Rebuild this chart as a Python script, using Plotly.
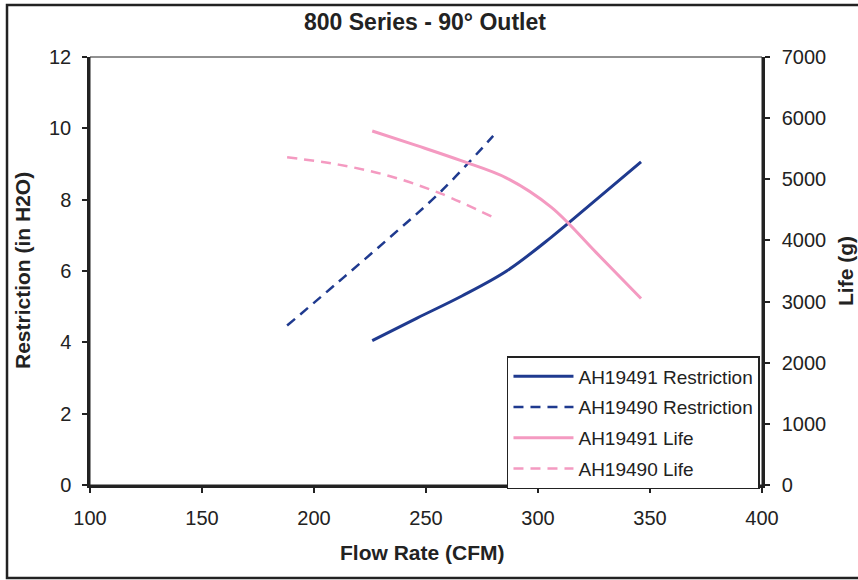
import plotly.graph_objects as go

# ---- data ----
flow_491 = [226, 246, 266, 286, 306, 326, 346]
restr_491 = [4.05, 4.68, 5.30, 6.00, 6.95, 8.00, 9.06]
life_491 = [5790, 5550, 5300, 5020, 4540, 3800, 3050]

flow_490 = [188, 211, 234, 257, 280]
restr_490 = [4.47, 5.70, 6.95, 8.25, 9.79]
life_490 = [5360, 5240, 5050, 4760, 4378]

x_ticks = [100, 150, 200, 250, 300, 350, 400]
y_left_ticks = [0, 2, 4, 6, 8, 10, 12]
y_right_ticks = [0, 1000, 2000, 3000, 4000, 5000, 6000, 7000]

NAVY = "#1f3a8f"
PINK = "#f49ac1"
FONT = "Liberation Sans, Arial, sans-serif"
INK = "#222222"

fig = go.Figure()
fig.add_trace(go.Scatter(x=flow_491, y=restr_491, name="AH19491 Restriction", mode="lines",
                         line=dict(color=NAVY, width=3, shape="spline", smoothing=1.0),
                         legendgroup="a"))
fig.add_trace(go.Scatter(x=flow_490, y=restr_490, name="AH19490 Restriction", mode="lines",
                         line=dict(color=NAVY, width=2.5, dash="10px,7px", shape="spline", smoothing=1.0),
                         legendgroup="b"))
fig.add_trace(go.Scatter(x=flow_491, y=life_491, name="AH19491 Life", mode="lines", yaxis="y2",
                         line=dict(color=PINK, width=3, shape="spline", smoothing=1.0),
                         legendgroup="c"))
fig.add_trace(go.Scatter(x=flow_490, y=life_490, name="AH19490 Life", mode="lines", yaxis="y2",
                         line=dict(color=PINK, width=2.5, dash="10px,7px", shape="spline", smoothing=1.0),
                         legendgroup="d"))

axis_common = dict(showgrid=False, zeroline=False, showline=True, linecolor=INK, linewidth=2.5,
                   ticks="outside", ticklen=5, tickwidth=1.5, tickcolor=INK,
                   tickfont=dict(family=FONT, size=20, color=INK))

fig.update_layout(
    width=858, height=580,
    margin=dict(l=90, r=96, t=57, b=95),
    paper_bgcolor="white", plot_bgcolor="white",
    showlegend=True,
    title=dict(text="<b>800 Series - 90° Outlet</b>", x=0.4953, xref="container", xanchor="center",
               y=1 - 22 / 580, yanchor="middle", font=dict(family=FONT, size=23, color=INK)),
    xaxis=dict(range=[100, 400], tickvals=x_ticks, ticklabelstandoff=8, **axis_common),
    yaxis=dict(range=[0, 12], tickvals=y_left_ticks, ticklabelstandoff=7, **axis_common),
    yaxis2=dict(range=[0, 7000], tickvals=y_right_ticks, overlaying="y", side="right",
                ticklabelstandoff=8, **axis_common),
    legend=dict(x=0.6205, y=0.3014, xanchor="left", yanchor="top",
                bgcolor="white", bordercolor=INK, borderwidth=1.5,
                font=dict(family=FONT, size=19, color=INK),
                traceorder="grouped", tracegroupgap=3, itemwidth=60),
    shapes=[
        dict(type="rect", xref="paper", yref="paper", x0=0, x1=1, y0=0, y1=1,
             line=dict(color=INK, width=1), layer="below"),
        dict(type="rect", xref="paper", yref="paper", x0=-0.1235, x1=1.25, y0=-0.2173, y1=1.1215,
             line=dict(color=INK, width=2.5)),
    ],
    annotations=[
        dict(text="<b>Flow Rate (CFM)</b>", xref="paper", yref="paper", x=(422 - 90) / 672,
             y=(485 - 552) / 428, xanchor="center", yanchor="middle", showarrow=False,
             font=dict(family=FONT, size=21, color=INK)),
        dict(text="<b>Restriction (in H2O)</b>", xref="paper", yref="paper", x=(22 - 90) / 672,
             y=0.5, xanchor="center", yanchor="middle", textangle=-90, showarrow=False,
             font=dict(family=FONT, size=21, color=INK)),
        dict(text="<b>Life (g)</b>", xref="paper", yref="paper", x=(845 - 90) / 672,
             y=0.5, xanchor="center", yanchor="middle", textangle=-90, showarrow=False,
             font=dict(family=FONT, size=21, color=INK)),
    ],
)

fig.write_html("out.html", config={"displayModeBar": False},
               post_script="document.body.style.margin='0';document.body.style.overflow='hidden';")
